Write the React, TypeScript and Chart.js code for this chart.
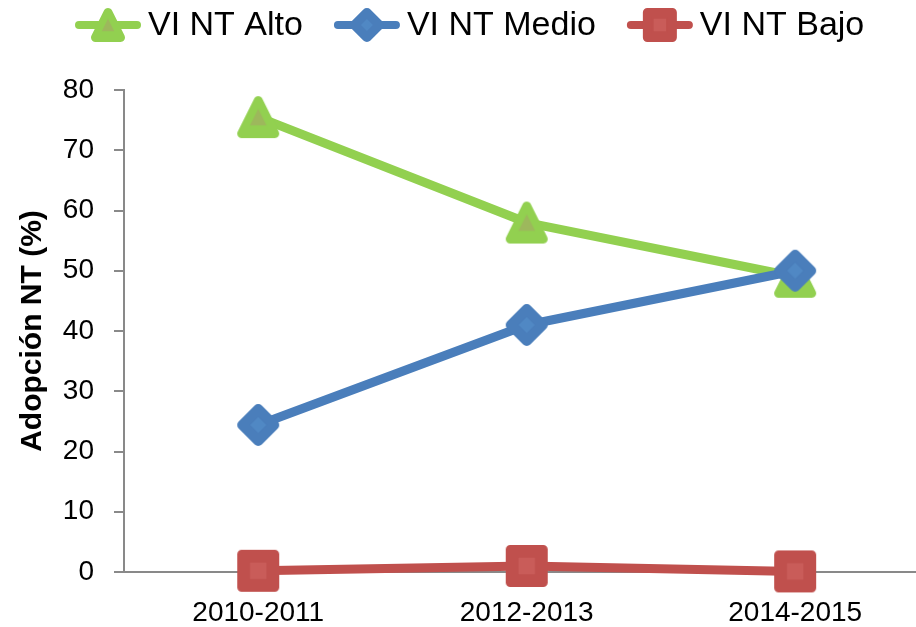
import React, { useEffect, useRef } from "react";
import { Chart, registerables } from "chart.js";

Chart.register(...registerables);

const categories = ["2010-2011", "2012-2013", "2014-2015"];
const seriesNames = ["VI NT Alto", "VI NT Medio", "VI NT Bajo"];
const altoValues = [75.5, 58, 49];
const medioValues = [24.4, 41, 50];
const bajoValues = [0.2, 1.0, 0.1];
const yTickValues = [0, 10, 20, 30, 40, 50, 60, 70, 80];
const yTitle = "Adopción NT (%)";

const FONT = "'Liberation Sans', Arial, sans-serif";
const GREEN = "#92D050";
const BLUE = "#4A7EBB";
const RED = "#C0504D";
const AXIS = "#898989";

type Kind = "triangle" | "diamond" | "square";

function shapePath(ctx: CanvasRenderingContext2D, kind: Kind, cx: number, cy: number, h: number) {
  ctx.beginPath();
  if (kind === "triangle") {
    ctx.moveTo(cx, cy - h);
    ctx.lineTo(cx + h, cy + h);
    ctx.lineTo(cx - h, cy + h);
  } else if (kind === "diamond") {
    ctx.moveTo(cx, cy - h);
    ctx.lineTo(cx + h, cy);
    ctx.lineTo(cx, cy + h);
    ctx.lineTo(cx - h, cy);
  } else {
    ctx.moveTo(cx - h, cy - h);
    ctx.lineTo(cx + h, cy - h);
    ctx.lineTo(cx + h, cy + h);
    ctx.lineTo(cx - h, cy + h);
  }
  ctx.closePath();
}

function drawMarker(
  ctx: CanvasRenderingContext2D,
  kind: Kind,
  cx: number,
  cy: number,
  size: number,
  color: string,
  inner: string
) {
  const sw = kind === "diamond" ? 10 : 9;
  const h = size / 2 - sw / 2;
  ctx.save();
  ctx.lineJoin = "round";
  ctx.lineWidth = sw;
  ctx.fillStyle = color;
  ctx.strokeStyle = color;
  shapePath(ctx, kind, cx, cy, h);
  ctx.fill();
  ctx.stroke();
  ctx.fillStyle = inner;
  shapePath(ctx, kind, cx, cy, h * 0.5);
  ctx.fill();
  ctx.restore();
}

function makeMarkerImage(kind: Kind, size: number, color: string, inner: string) {
  const c = document.createElement("canvas");
  c.width = size + 4;
  c.height = size + 4;
  const ctx = c.getContext("2d")!;
  drawMarker(ctx, kind, c.width / 2, c.height / 2, size, color, inner);
  return c;
}

const seriesStyles: { kind: Kind; color: string; inner: string }[] = [
  { kind: "triangle", color: GREEN, inner: "#9DB85C" },
  { kind: "diamond", color: BLUE, inner: "#5088C4" },
  { kind: "square", color: RED, inner: "#C95C59" },
];

const legendPlugin = {
  id: "excelLegend",
  afterDraw(chart: any) {
    const ctx: CanvasRenderingContext2D = chart.ctx;
    ctx.save();
    ctx.font = `34px ${FONT}`;
    ctx.textBaseline = "middle";
    ctx.textAlign = "left";
    let x = 76;
    const y = 25;
    seriesNames.forEach((name, i) => {
      const st = seriesStyles[i];
      ctx.strokeStyle = st.color;
      ctx.lineWidth = 8;
      ctx.lineCap = "round";
      ctx.beginPath();
      ctx.moveTo(x + 3, y);
      ctx.lineTo(x + 61, y);
      ctx.stroke();
      drawMarker(ctx, st.kind, x + 32, y, 34, st.color, st.inner);
      ctx.fillStyle = "#000";
      ctx.fillText(name, x + 72, y + 1);
      x += 72 + ctx.measureText(name).width + 32;
    });
    ctx.restore();
  },
};

export default function App() {
  const ref = useRef<HTMLCanvasElement | null>(null);

  useEffect(() => {
    if (!ref.current) return;
    const seriesData = [altoValues, medioValues, bajoValues];
    const orders = [2, 1, 0];
    const chart = new Chart(ref.current, {
      type: "line",
      data: {
        datasets: seriesNames.map((name, i) => ({
          label: name,
          data: seriesData[i].map((v, j) => ({ x: j, y: v })),
          borderColor: seriesStyles[i].color,
          backgroundColor: seriesStyles[i].color,
          borderWidth: 9,
          borderCapStyle: "round" as const,
          borderJoinStyle: "round" as const,
          tension: 0,
          fill: false,
          pointStyle: makeMarkerImage(seriesStyles[i].kind, 42, seriesStyles[i].color, seriesStyles[i].inner),
          pointRadius: 20,
          clip: false as any,
          order: orders[i],
        })),
      },
      options: {
        responsive: false,
        animation: false,
        layout: { autoPadding: false, padding: { top: 90, left: 0, right: 0, bottom: 0 } },
        plugins: {
          legend: { display: false },
          tooltip: { enabled: false },
          title: { display: false },
        },
        scales: {
          x: {
            type: "linear",
            min: -0.5,
            max: 2.45,
            afterBuildTicks: (s: any) => {
              s.ticks = categories.map((_, i) => ({ value: i }));
            },
            afterFit: (s: any) => {
              s.height = 55;
              s.paddingLeft = 0;
              s.paddingRight = 0;
            },
            ticks: {
              callback: (v: any) => categories[v] ?? "",
              font: { family: FONT, size: 28 },
              color: "#000",
              padding: 24,
              autoSkip: false,
              maxRotation: 0,
            },
            grid: { display: false, drawTicks: false },
            border: { display: true, color: AXIS, width: 2 },
          },
          y: {
            type: "linear",
            min: 0,
            max: 80,
            afterBuildTicks: (s: any) => {
              s.ticks = yTickValues.map((v) => ({ value: v }));
            },
            afterFit: (s: any) => {
              s.width = 124;
              s.paddingTop = 0;
              s.paddingBottom = 0;
            },
            ticks: {
              font: { family: FONT, size: 28 },
              color: "#000",
              padding: 20,
            },
            grid: {
              display: true,
              drawOnChartArea: false,
              drawTicks: true,
              tickLength: 10,
              color: AXIS,
              lineWidth: 2,
            },
            border: { display: true, color: AXIS, width: 2 },
            title: {
              display: true,
              text: yTitle,
              font: { family: FONT, size: 30, weight: "bold" },
              color: "#000",
              padding: { top: 15, bottom: 0 },
            },
          },
        },
      },
      plugins: [legendPlugin],
    } as any);
    return () => chart.destroy();
  }, []);

  return (
    <div style={{ position: "absolute", left: 0, top: 0, width: 916, height: 627, background: "#fff" }}>
      <canvas ref={ref} width={916} height={627} style={{ display: "block" }} />
    </div>
  );
}
